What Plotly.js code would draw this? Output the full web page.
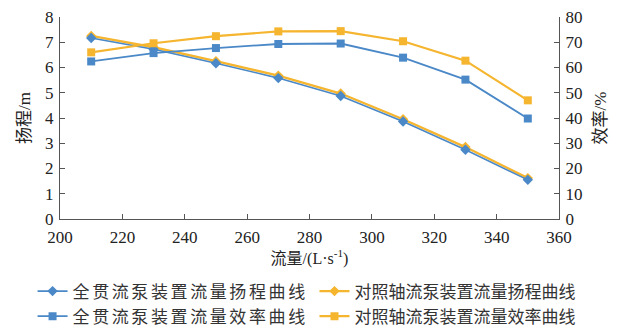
<!DOCTYPE html>
<html>
<head>
<meta charset="utf-8">
<script src="https://cdn.plot.ly/plotly-3.0.1.min.js"></script>
<style>
html,body{margin:0;padding:0;background:#fff;}
#chart{width:625px;height:334px;}
.legendtext{letter-spacing:2.6px;}
</style>
</head>
<body>
<div id="chart"></div>
<script>
const flow = [210, 230, 250, 270, 290, 310, 330, 350];
const headFull = [7.17, 6.72, 6.17, 5.58, 4.87, 3.86, 2.74, 1.55];
const headRef = [7.25, 6.80, 6.25, 5.68, 4.97, 3.95, 2.85, 1.62];
const effFull = [62.4, 65.7, 67.7, 69.3, 69.5, 63.9, 55.2, 39.8];
const effRef = [66.0, 69.6, 72.4, 74.3, 74.4, 70.4, 62.7, 47.0];
const names = ['全贯流泵装置流量扬程曲线', '对照轴流泵装置流量扬程曲线', '全贯流泵装置流量效率曲线', '对照轴流泵装置流量效率曲线'];
const xTicks = [200, 220, 240, 260, 280, 300, 320, 340, 360];
const yTicks = [0, 1, 2, 3, 4, 5, 6, 7, 8];
const y2Ticks = [0, 10, 20, 30, 40, 50, 60, 70, 80];

const blue = '#4a88c7';
const orange = '#f5b52f';
const FONT = 'Times New Roman, Liberation Serif, Noto Sans CJK SC, serif';

const traces = [
  {x: flow, y: headRef, name: names[1], type: 'scatter', mode: 'lines+markers', legend: 'legend2',
   line: {color: orange, width: 2.4}, marker: {symbol: 'diamond', size: 8, color: orange}, yaxis: 'y'},
  {x: flow, y: headFull, name: names[0], type: 'scatter', mode: 'lines+markers', legend: 'legend',
   line: {color: blue, width: 1.6}, marker: {symbol: 'diamond', size: 8, color: blue}, yaxis: 'y'},
  {x: flow, y: effRef, name: names[3], type: 'scatter', mode: 'lines+markers', legend: 'legend2',
   line: {color: orange, width: 2.2}, marker: {symbol: 'square', size: 8, color: orange}, yaxis: 'y2'},
  {x: flow, y: effFull, name: names[2], type: 'scatter', mode: 'lines+markers', legend: 'legend',
   line: {color: blue, width: 1.8}, marker: {symbol: 'square', size: 8, color: blue}, yaxis: 'y2'}
];

const axisCommon = {
  showgrid: false, zeroline: false, showline: true, linecolor: '#555', linewidth: 1,
  ticks: 'inside', ticklen: 5, tickcolor: '#555', automargin: true,
  tickfont: {family: FONT, size: 17, color: '#222'}
};

const legendCommon = {
  orientation: 'v', yanchor: 'top', y: -0.27, xanchor: 'left',
  traceorder: 'normal', font: {family: FONT, size: 17, color: '#333'},
  tracegroupgap: 0, itemwidth: 30, bgcolor: 'rgba(0,0,0,0)'
};

const layout = {
  width: 625, height: 334,
  margin: {l: 60, r: 66, t: 17, b: 115, autoexpand: false},
  paper_bgcolor: '#fff', plot_bgcolor: '#fff',
  font: {family: FONT, color: '#222'},
  showlegend: true,
  xaxis: Object.assign({}, axisCommon, {
    range: [200, 360], tickvals: xTicks, ticktext: xTicks.map(String), ticklabelstandoff: 3,
    title: {text: '流量/(L·s<sup>-1</sup>)', font: {family: FONT, size: 16, color: '#222'}, standoff: 0}
  }),
  yaxis: Object.assign({}, axisCommon, {
    range: [0, 8], tickvals: yTicks, ticktext: yTicks.map(String), ticklabelstandoff: 2,
    title: {text: '扬程/m', font: {family: FONT, size: 17, color: '#222'}, standoff: 10}
  }),
  yaxis2: Object.assign({}, axisCommon, {
    overlaying: 'y', side: 'right',
    range: [0, 80], tickvals: y2Ticks, ticktext: y2Ticks.map(String), ticklabelstandoff: 2,
    title: {text: '效率/%', font: {family: FONT, size: 17, color: '#222'}, standoff: 12}
  }),
  legend: Object.assign({}, legendCommon, {x: -0.055}),
  legend2: Object.assign({}, legendCommon, {x: 0.51})
};

Plotly.newPlot('chart', traces, layout, {staticPlot: true, displayModeBar: false});
</script>
</body>
</html>
